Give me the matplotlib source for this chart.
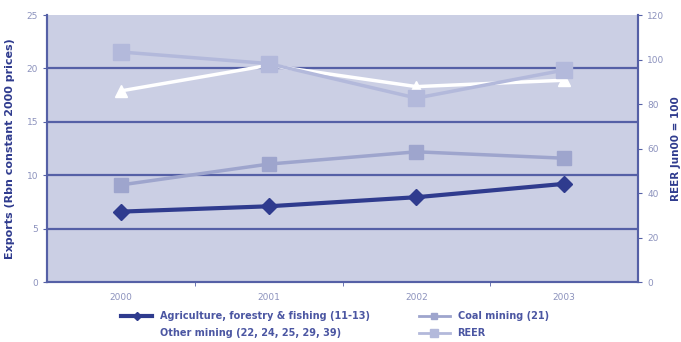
import numpy as np
import matplotlib.pyplot as plt
from matplotlib.lines import Line2D

years = ['2000', '2001', '2002', '2003']
agriculture = [6.6, 7.1, 7.95, 9.2]
coal_mining = [9.1, 11.05, 12.2, 11.6]
other_mining = [17.9, 20.3, 18.3, 18.9]
reer = [103.4, 98.2, 82.7, 95.3]

dark = '#2f3b8e'
grid_col = '#5560a6'
bg = '#cbcfe4'
coal_col = '#9ea5cd'
reer_col = '#b3b9db'
tick_col = '#8c92bd'

x = np.arange(len(years))

fig = plt.figure(figsize=(6.81, 3.42), dpi=100)
ax = fig.add_axes([0.069, 0.175, 0.868, 0.781])
ax.set_facecolor(bg)
ax2 = ax.twinx()

ax.set_xlim(-0.5, 3.5)
ax.set_ylim(0, 25)
ax2.set_ylim(0, 120)
ax.set_yticks(range(0, 26, 5))
ax2.set_yticks(range(0, 121, 20))

for y in range(5, 21, 5):
    ax.axhline(y, color=grid_col, lw=1.6, zorder=1)

ax.plot(x, coal_mining, color=coal_col, lw=2.5, marker='s', ms=10, zorder=3)
ax.plot(x, other_mining, color='white', lw=2.5, marker='^', ms=9, zorder=3)
ax.plot(x, agriculture, color=dark, lw=3, marker='D', ms=8, zorder=4)
ax2.plot(x, reer, color=reer_col, lw=2.5, marker='s', ms=12, zorder=3)

ax.set_xticks(x)
ax.set_xticklabels(years)
ax.set_xticks([0.5, 1.5, 2.5], minor=True)
ax.tick_params(axis='x', which='major', length=0, labelsize=6.5, colors=tick_col, pad=8)
ax.tick_params(axis='x', which='minor', length=3, color=grid_col)
ax.tick_params(axis='y', length=3, color=grid_col, labelsize=6.5, labelcolor=tick_col)
ax2.tick_params(axis='y', length=3, color=grid_col, labelsize=6.5, labelcolor=tick_col)

for a in (ax, ax2):
    a.spines['top'].set_visible(False)
    for s in ('left', 'right', 'bottom'):
        a.spines[s].set_color(grid_col)
        a.spines[s].set_linewidth(1.5)

ax.set_ylabel('Exports (Rbn constant 2000 prices)', color=dark, fontsize=8,
              fontweight='bold', labelpad=8)
ax2.set_ylabel('REER Jun00 = 100', color=dark, fontsize=7.5, fontweight='bold', labelpad=5)

handles = [
    Line2D([], [], color=dark, lw=3, marker='D', ms=4),
    Line2D([], [], color='white', lw=2.5, marker='^', ms=4),
    Line2D([], [], color=coal_col, lw=2, marker='s', ms=4),
    Line2D([], [], color=reer_col, lw=2, marker='s', ms=6),
]
labels = ['Agriculture, forestry & fishing (11-13)', 'Other mining (22, 24, 25, 29, 39)',
          'Coal mining (21)', 'REER']
leg = fig.legend(handles, labels, ncol=2, loc='lower left', bbox_to_anchor=(0.165, -0.015),
                 frameon=False, fontsize=7, handlelength=3.2, columnspacing=5,
                 labelspacing=0.75)
for t in leg.get_texts():
    t.set_color('#4b56a2')
    t.set_fontweight('bold')

fig.savefig('out.png', dpi=100)
